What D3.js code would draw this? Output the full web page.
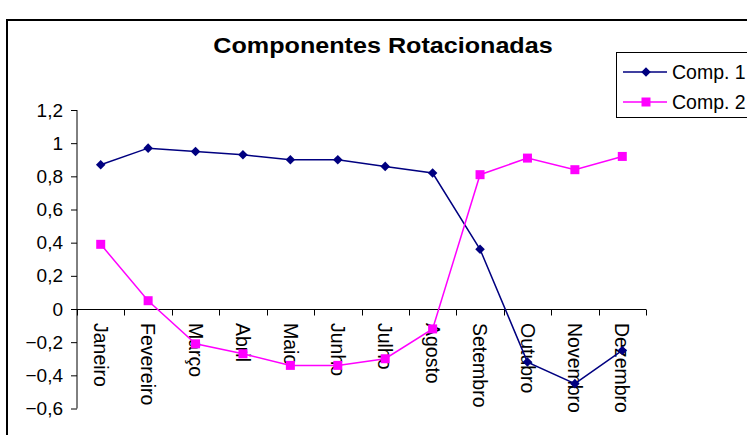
<!DOCTYPE html>
<html>
<head>
<meta charset="utf-8">
<script src="https://cdn.jsdelivr.net/npm/d3@7"></script>
<style>
  html, body { margin: 0; padding: 0; background: #fff; }
  svg text { font-family: "Liberation Sans", Arial, sans-serif; fill: #000; }
</style>
</head>
<body>
<svg id="chart" width="747" height="435"></svg>
<script>
// Loadings of the two rotated components, month by month
const months = ["Janeiro", "Fevereiro", "Março", "Abril", "Maio", "Junho",
                "Julho", "Agosto", "Setembro", "Outubro", "Novembro", "Dezembro"];
const comp1 = [0.87, 0.97, 0.95, 0.93, 0.90, 0.90, 0.86, 0.82, 0.36, -0.32, -0.45, -0.25];
const comp2 = [0.39, 0.05, -0.21, -0.27, -0.34, -0.34, -0.30, -0.12, 0.81, 0.91, 0.84, 0.92];
const seriesNames = ["Comp. 1", "Comp. 2"];
const yTicks = [1.2, 1, 0.8, 0.6, 0.4, 0.2, 0, -0.2, -0.4, -0.6];
const titleText = "Componentes Rotacionadas";

const svg = d3.select("#chart");
const W = 747, H = 435;

// outer chart frame
svg.append("rect")
  .attr("x", 7).attr("y", 20)
  .attr("width", W + 20).attr("height", H + 20)
  .attr("fill", "#fff").attr("stroke", "#000").attr("stroke-width", 2);

const plot = { left: 77, right: 646, top: 110, bottom: 408.5 };

const x = d3.scaleBand().domain(months).range([plot.left, plot.right]);
const y = d3.scaleLinear().domain([-0.6, 1.2]).range([plot.bottom, plot.top]);

const fmt = v => (v === 0 || v === 1) ? String(v) : d3.format(".1f")(v).replace(".", ",");

// title (slightly wide lettering)
svg.append("text")
  .attr("transform", "translate(383,53) scale(1.17,1)")
  .attr("text-anchor", "middle")
  .style("font-size", "21.5px").style("font-weight", "bold")
  .text(titleText);

// y axis
const yAxis = svg.append("g")
  .attr("transform", `translate(${plot.left},0)`)
  .call(d3.axisLeft(y).tickValues(yTicks).tickFormat(fmt).tickSize(6).tickPadding(8));
yAxis.select(".domain").attr("stroke", "#000").attr("d", `M0,${plot.top}V${plot.bottom}`);
yAxis.selectAll(".tick line").attr("stroke", "#000");
yAxis.selectAll(".tick text")
  .style("font-size", "19px").style("font-family", "'Liberation Sans', Arial, sans-serif");

// x axis along zero, ticks between categories
const y0 = Math.round(y(0)) + 0.5;
const xAxisG = svg.append("g");
xAxisG.append("line")
  .attr("x1", plot.left).attr("x2", plot.right)
  .attr("y1", y0).attr("y2", y0)
  .attr("stroke", "#000");
const boundaries = months.map(m => x(m)).concat([plot.right]);
xAxisG.selectAll("line.tk").data(boundaries).join("line")
  .attr("class", "tk")
  .attr("x1", d => Math.round(d) + 0.5).attr("x2", d => Math.round(d) + 0.5)
  .attr("y1", y0).attr("y2", y0 + 6)
  .attr("stroke", "#000");
xAxisG.selectAll("text").data(months).join("text")
  .attr("transform", m => `translate(${x(m) + x.bandwidth() / 2},323) rotate(90)`)
  .attr("dy", "0.35em")
  .attr("text-anchor", "start")
  .style("font-size", "19.5px")
  .text(m => m);

// series lines and markers
const cx = m => x(m) + x.bandwidth() / 2;
const line = d3.line().x(d => cx(d.m)).y(d => y(d.v));
const s1 = months.map((m, i) => ({ m, v: comp1[i] }));
const s2 = months.map((m, i) => ({ m, v: comp2[i] }));

const colors = ["#000080", "#FF00FF"];
const diamond = d3.symbol().type(d3.symbolDiamond2).size(58);
const square = d3.symbol().type(d3.symbolSquare).size(81);

svg.append("path").datum(s1).attr("d", line)
  .attr("fill", "none").attr("stroke", colors[0]).attr("stroke-width", 1.5);
svg.append("path").datum(s2).attr("d", line)
  .attr("fill", "none").attr("stroke", colors[1]).attr("stroke-width", 1.5);

svg.selectAll("path.m1").data(s1).join("path")
  .attr("class", "m1")
  .attr("d", diamond)
  .attr("transform", d => `translate(${cx(d.m)},${y(d.v)})`)
  .attr("fill", colors[0]);
svg.selectAll("path.m2").data(s2).join("path")
  .attr("class", "m2")
  .attr("d", square)
  .attr("transform", d => `translate(${cx(d.m)},${y(d.v)})`)
  .attr("fill", colors[1]);

// legend
const lg = svg.append("g");
lg.append("rect")
  .attr("x", 616.5).attr("y", 52.5)
  .attr("width", 150).attr("height", 65)
  .attr("fill", "#fff").attr("stroke", "#000");
const rows = [72, 102];
const markers = [diamond, square];
seriesNames.forEach((name, i) => {
  lg.append("line")
    .attr("x1", 623).attr("x2", 667)
    .attr("y1", rows[i]).attr("y2", rows[i])
    .attr("stroke", colors[i]).attr("stroke-width", 1.5);
  lg.append("path")
    .attr("d", markers[i])
    .attr("transform", `translate(646,${rows[i]})`)
    .attr("fill", colors[i]);
  lg.append("text")
    .attr("x", 672).attr("y", rows[i])
    .attr("dy", "0.35em")
    .style("font-size", "19.5px")
    .text(name);
});
</script>
</body>
</html>
